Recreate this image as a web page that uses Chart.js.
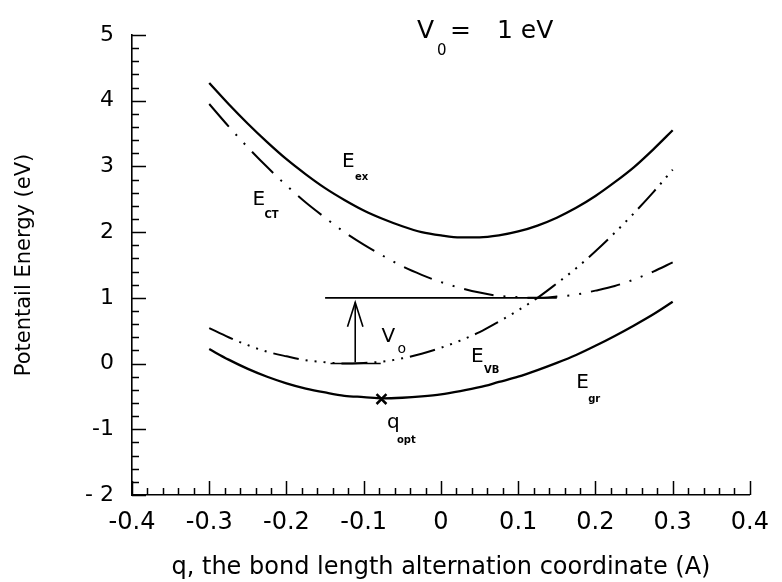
<!DOCTYPE html>
<html>
<head>
<meta charset="utf-8">
<script src="https://cdn.jsdelivr.net/npm/chart.js@4.4.1/dist/chart.umd.min.js"></script>
<style>
  html, body { margin: 0; padding: 0; background: #fff; }
  #wrap { width: 782px; height: 582px; }
</style>
</head>
<body>
<div id="wrap"><canvas id="plot" width="782" height="582"></canvas></div>
<script>
'use strict';

// ── Data ──────────────────────────────────────────────────────────────────────
const qValues = [-0.3, -0.275, -0.25, -0.225, -0.2, -0.175, -0.15, -0.125, -0.1, -0.075, -0.05, -0.025,
  0, 0.025, 0.05, 0.075, 0.1, 0.125, 0.15, 0.175, 0.2, 0.225, 0.25, 0.275, 0.3];

const eEx = [4.27, 3.95, 3.65, 3.37, 3.11, 2.88, 2.67, 2.49, 2.33, 2.20, 2.09, 2.00,
  1.95, 1.92, 1.92, 1.95, 2.01, 2.10, 2.22, 2.37, 2.55, 2.76, 2.99, 3.26, 3.55];
const eGr = [0.22, 0.06, -0.08, -0.20, -0.30, -0.38, -0.44, -0.49, -0.51, -0.53, -0.52, -0.50,
  -0.47, -0.42, -0.36, -0.28, -0.20, -0.10, 0.01, 0.13, 0.27, 0.42, 0.58, 0.75, 0.94];
const eVB = [0.54, 0.40, 0.28, 0.18, 0.11, 0.05, 0.02, 0.00, 0.01, 0.03, 0.08, 0.15,
  0.24, 0.35, 0.48, 0.64, 0.81, 1.00, 1.22, 1.45, 1.71, 1.99, 2.29, 2.61, 2.95];
const eCT = [3.95, 3.61, 3.29, 2.99, 2.71, 2.45, 2.22, 2.00, 1.81, 1.64, 1.48, 1.35,
  1.24, 1.15, 1.08, 1.03, 1.01, 1.00, 1.02, 1.05, 1.11, 1.18, 1.28, 1.40, 1.54];

// V0 marker: levels, arrow, optimum point
const levelOneQ = [-0.15, 0.15];
const levelOneE = [1, 1];
const levelZeroQ = [-0.143, -0.078];
const levelZeroE = [0, 0];
const arrowQ = [-0.111, -0.111];
const arrowE = [0.02, 0.93];
const arrowHeadQ = [-0.121, -0.111, -0.101];
const arrowHeadE = [0.56, 0.93, 0.56];
const qOpt = [-0.077];
const eOpt = [-0.54];

// Axes
const xTicks = [-0.4, -0.3, -0.2, -0.1, 0, 0.1, 0.2, 0.3, 0.4];
const xTickLabels = ['-0.4', '-0.3', '-0.2', '-0.1', '0', '0.1', '0.2', '0.3', '0.4'];
const yTicks = [-2, -1, 0, 1, 2, 3, 4, 5];
const yTickLabels = ['- 2', '-1', '0', '1', '2', '3', '4', '5'];

// ── Helpers ───────────────────────────────────────────────────────────────────
const FONT = "'DejaVu Sans', sans-serif";

function pts(xs, ys) {
  return xs.map((x, i) => ({ x, y: ys[i] }));
}

function curveSet(data, width, dash) {
  return {
    data,
    borderColor: '#000',
    borderWidth: width,
    borderDash: dash || [],
    pointRadius: 0,
    fill: false,
    cubicInterpolationMode: 'monotone',
  };
}

function straightSet(data, width) {
  return {
    data,
    borderColor: '#000',
    borderWidth: width,
    pointRadius: 0,
    fill: false,
    tension: 0,
  };
}

// text labels: [main, sub, q, E, subFont, subDx, subDy]
const labels = [
  ['E', 'ex', -0.128, 2.99, 'bold 10px', 13, 13],
  ['E', 'CT', -0.244, 2.41, 'bold 10px', 12, 13],
  ['V', 'o', -0.077, 0.33, '14px', 16, 11],
  ['E', 'VB', 0.039, 0.02, 'bold 10px', 13, 11],
  ['E', 'gr', 0.175, -0.37, 'bold 10px', 12, 14],
  ['q', 'opt', -0.070, -0.98, 'bold 10px', 10, 15],
];

// inside tick marks + text annotations
const decorPlugin = {
  id: 'decor',
  afterDraw(chart) {
    const { ctx, scales: { x, y } } = chart;
    ctx.save();
    ctx.strokeStyle = '#000';
    ctx.lineWidth = 1.5;
    ctx.beginPath();
    for (let i = 0; i <= 40; i++) {
      const v = -0.4 + i * 0.02;
      const px = Math.round(x.getPixelForValue(v)) + 0.5;
      const len = i % 5 === 0 ? 14 : 7;
      ctx.moveTo(px, y.bottom);
      ctx.lineTo(px, y.bottom - len);
    }
    for (let i = 0; i <= 35; i++) {
      const v = -2 + i * 0.2;
      const py = Math.round(y.getPixelForValue(v)) + 0.5;
      const len = i % 5 === 0 ? 14 : 7;
      ctx.moveTo(x.left, py);
      ctx.lineTo(x.left + len, py);
    }
    ctx.stroke();

    ctx.fillStyle = '#000';
    ctx.textBaseline = 'alphabetic';
    ctx.textAlign = 'left';
    labels.forEach(([main, sub, q, e, subFont, dx, dy]) => {
      const px = x.getPixelForValue(q);
      const py = y.getPixelForValue(e);
      ctx.font = `20px ${FONT}`;
      ctx.fillText(main, px, py);
      ctx.font = `${subFont} ${FONT}`;
      ctx.fillText(sub, px + dx, py + dy);
    });

    // heading V0 = 1 eV
    const tx = x.getPixelForValue(-0.031);
    const ty = y.getPixelForValue(4.96);
    ctx.font = `25px ${FONT}`;
    ctx.fillText('V', tx, ty);
    ctx.fillText('=', tx + 33, ty);
    ctx.fillText('1 eV', tx + 80, ty);
    ctx.font = `15px ${FONT}`;
    ctx.fillText('0', tx + 20, ty + 17);
    ctx.restore();
  },
};

// ── Chart ─────────────────────────────────────────────────────────────────────
new Chart(document.getElementById('plot').getContext('2d'), {
  type: 'line',
  data: {
    datasets: [
      curveSet(pts(qValues, eEx), 2.3),
      curveSet(pts(qValues, eGr), 2.3),
      curveSet(pts(qValues, eCT), 2, [30, 10, 2, 10, 2, 10]),
      curveSet(pts(qValues, eVB), 2, [26, 7, 2, 7, 2, 7, 2, 7, 2, 7]),
      straightSet(pts(levelOneQ, levelOneE), 1.6),
      straightSet(pts(levelZeroQ, levelZeroE), 1.6),
      straightSet(pts(arrowQ, arrowE), 1.6),
      straightSet(pts(arrowHeadQ, arrowHeadE), 1.6),
      {
        type: 'scatter',
        data: pts(qOpt, eOpt),
        pointStyle: 'crossRot',
        pointRadius: 7,
        borderColor: '#000',
        borderWidth: 2.5,
      },
    ],
  },
  options: {
    responsive: false,
    animation: false,
    layout: { padding: { left: 0, right: 30, top: 35, bottom: 0 } },
    plugins: { legend: { display: false }, tooltip: { enabled: false } },
    scales: {
      x: {
        type: 'linear',
        min: -0.4,
        max: 0.4,
        afterFit: s => { s.height = 87; },
        afterBuildTicks: s => { s.ticks = xTicks.map(v => ({ value: v })); },
        grid: { display: false, drawTicks: false },
        border: { display: true, color: '#000', width: 1.6 },
        ticks: {
          color: '#000',
          font: { family: FONT, size: 24 },
          padding: 13,
          maxRotation: 0,
          autoSkip: false,
          callback: (v, i) => xTickLabels[i],
        },
        title: {
          display: true,
          text: 'q, the bond length alternation coordinate (A)',
          color: '#000',
          font: { family: FONT, size: 24 },
          padding: { top: 0, bottom: 0 },
        },
      },
      y: {
        type: 'linear',
        min: -2,
        max: 5,
        afterFit: s => { s.width = 132; },
        afterBuildTicks: s => { s.ticks = yTicks.map(v => ({ value: v })); },
        grid: { display: false, drawTicks: false },
        border: { display: true, color: '#000', width: 1.6 },
        ticks: {
          color: '#000',
          font: { family: FONT, size: 22 },
          padding: 18,
          autoSkip: false,
          callback: (v, i) => yTickLabels[i],
        },
        title: {
          display: true,
          text: 'Potentail Energy (eV)',
          color: '#000',
          font: { family: FONT, size: 21 },
          padding: { top: 12, bottom: 0 },
        },
      },
    },
  },
  plugins: [decorPlugin],
});
</script>
</body>
</html>
